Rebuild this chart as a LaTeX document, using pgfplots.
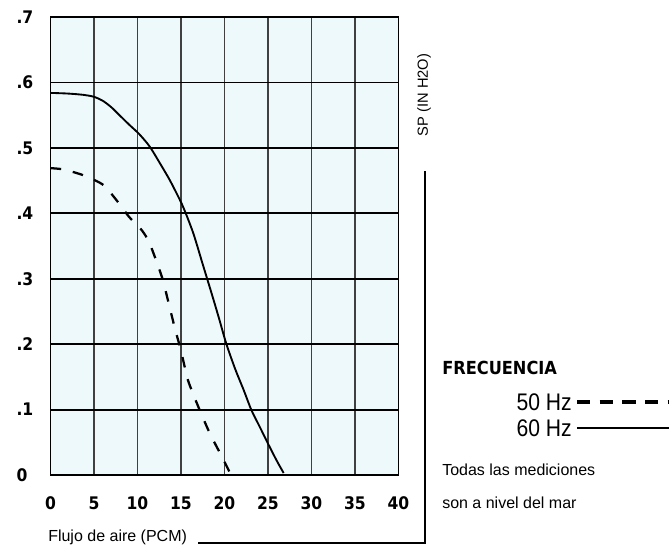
\documentclass[border=0pt]{standalone}
\usepackage{fontspec}
\setmainfont{Liberation Sans}
\newfontfamily\condfont{DejaVu Sans Condensed}
\usepackage{pgfplots}
\pgfplotsset{compat=1.18}
\definecolor{bgcyan}{HTML}{EEF9FC}
\pgfplotstableread{
x y
0 0.584
2 0.583
3.8 0.581
5 0.578
6 0.572
7 0.562
8 0.549
9 0.536
10.2 0.521
11.4 0.502
12.6 0.476
13.7 0.451
14.7 0.425
15.3 0.408
16.4 0.370
17.5 0.322
18.6 0.274
19.4 0.238
20.2 0.201
21.2 0.163
22.2 0.130
23.1 0.099
24.0 0.075
25.0 0.048
26.0 0.022
26.8 0.003
}\sixty
\pgfplotstableread{
x y
0 0.469
1.5 0.467
3.8 0.458
6.1 0.443
8.0 0.413
9.0 0.395
10.5 0.374
11.4 0.354
12.8 0.303
13.5 0.267
14.3 0.224
15.0 0.190
15.8 0.145
17.0 0.104
18.3 0.064
19.7 0.028
20.6 0.004
}\fifty
\begin{document}
\begin{tikzpicture}[x=0.75pt,y=-0.75pt]
\path[use as bounding box] (0,0) rectangle (669,554);
\begin{axis}[
  at={(37.875pt,-356.25pt)}, anchor=south west,
  scale only axis, width=261pt, height=343.5pt,
  xmin=0, xmax=40, ymin=0, ymax=0.7,
  xtick={0,5,...,40}, ytick={0,0.1,0.2,0.3,0.4,0.5,0.6,0.7},
  xticklabels={0,5,10,15,20,25,30,35,40},
  yticklabels={0,.1,.2,.3,.4,.5,.6,.7},
  /pgf/number format/assume math mode=true,
  major tick length=0pt,
  ticklabel style={font=\condfont\bfseries\fontsize{13}{15}\selectfont},
  xticklabel style={yshift=-13pt},
  yticklabel style={anchor=west, xshift=-29pt},
  xmajorgrids, ymajorgrids,
  x grid style={black!75, line width=0.9pt},
  y grid style={black, line width=1.4pt},
  axis line style={black, line width=1.2pt},
  axis background/.style={fill=bgcyan},
  clip=true,
]
\addplot[black, line width=1.4pt, smooth, tension=0.5] table {\sixty};
\addplot[black, line width=1.7pt, smooth, tension=0.4, dash pattern=on 8pt off 9pt] table {\fifty};
\end{axis}
\node[anchor=west, inner sep=0pt, font=\fontsize{12}{14}\selectfont] at (48,537) {Flujo de aire (PCM)};
\draw[black, line width=1.7pt] (198,543) -- (425,543) -- (425,171);
\node[rotate=90, inner sep=0pt, font=\fontsize{11}{13}\selectfont] at (424,95) {SP (IN H2O)};
\node[anchor=west, inner sep=0pt, font=\condfont\bfseries\fontsize{13.5}{15}\selectfont] at (442,368) {FRECUENCIA};
\node[anchor=east, inner sep=0pt, font=\fontsize{18}{20}\selectfont] at (572,402) {\scalebox{0.88}[1]{50 Hz}};
\node[anchor=east, inner sep=0pt, font=\fontsize{18}{20}\selectfont] at (572,428) {\scalebox{0.88}[1]{60 Hz}};
\draw[black, line width=2.5pt, dash pattern=on 10pt off 7pt] (577,402) -- (669,402);
\draw[black, line width=1.2pt] (577,428) -- (669,428);
\node[anchor=west, inner sep=0pt, font=\fontsize{12}{14}\selectfont] at (442,470) {Todas las mediciones};
\node[anchor=west, inner sep=0pt, font=\fontsize{12}{14}\selectfont] at (442,503) {son a nivel del mar};
\end{tikzpicture}
\end{document}
